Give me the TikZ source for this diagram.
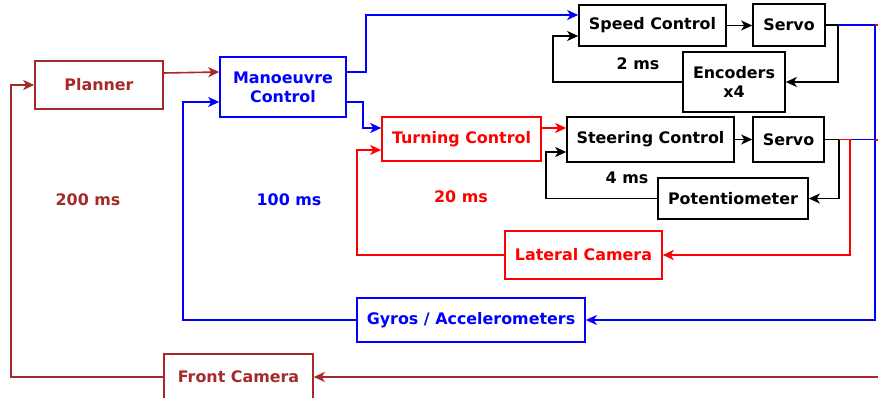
\documentclass[tikz,border=0pt]{standalone}
\usepackage{fontspec}
\setmainfont{DejaVu Sans}
\usetikzlibrary{arrows.meta,calc}
\definecolor{brn}{RGB}{165,42,42}
\definecolor{blu}{RGB}{0,0,255}
\definecolor{rd}{RGB}{255,0,0}
\begin{document}
\begin{tikzpicture}[x=1pt,y=-1pt,
  box/.style={draw,line width=1.6pt,rectangle,inner sep=0pt,align=center,
    font=\bfseries\fontsize{15.9}{19}\selectfont},
  lbl/.style={inner sep=0pt,font=\bfseries\fontsize{15.9}{19}\selectfont},
  wire/.style={line width=1.6pt},
  arr/.style={wire,-{Stealth[length=11pt,width=10pt,inset=3pt]}},
  bk/.style={black},
  br/.style={brn},
  bl/.style={blu},
  rdc/.style={rd}]
\clip (0,0) rectangle (878,398);
\useasboundingbox (0,0) rectangle (878,398);
% boxes
\node[box,br,minimum width=128,minimum height=48] (planner) at (99,85) {Planner};
\node[box,bl,minimum width=126,minimum height=60] (manoeuvre) at (283,87) {Manoeuvre\\Control};
\node[box,bk,minimum width=147,minimum height=41] (speed) at (652.5,25.5) {Speed Control};
\node[box,bk,minimum width=72,minimum height=42] (servoA) at (789,25) {Servo};
\node[box,bk,minimum width=102,minimum height=60] (enc) at (734,82) {Encoders\\x4};
\node[box,rdc,minimum width=159,minimum height=44] (turning) at (461.5,139) {Turning Control};
\node[box,bk,minimum width=167,minimum height=45] (steering) at (650.5,139.5) {Steering Control};
\node[box,bk,minimum width=71,minimum height=45] (servoB) at (788.5,139.5) {Servo};
\node[box,bk,minimum width=150,minimum height=41] (pot) at (733,198.5) {Potentiometer};
\node[box,rdc,minimum width=157,minimum height=48] (lateral) at (583.5,255) {Lateral Camera};
\node[box,bl,minimum width=228,minimum height=44] (gyros) at (471,320) {Gyros / Accelerometers};
\node[box,br,minimum width=149,minimum height=46] (front) at (238.5,377) {Front Camera};
% labels
\node[lbl,bk] (l2) at (638,64) {2 ms};
\node[lbl,bk] (l4) at (627,178) {4 ms};
\node[lbl,br] (l200) at (88,200) {200 ms};
\node[lbl,bl] (l100) at (289,200) {100 ms};
\node[lbl,rdc] (l20) at (461,197) {20 ms};
% edge coordinates
\coordinate (edgeF) at (880,377);
\coordinate (stubA) at (875,25);
\coordinate (stubB) at (875,140);
% connectors
\draw[arr,br] ([yshift=12pt]planner.east) -- ([yshift=15pt]manoeuvre.west);
\draw[arr,bl] ([yshift=15pt]manoeuvre.east) -- ++(19,0) |- ([yshift=10.5pt]speed.west);
\draw[arr,bl] ([yshift=-15pt]manoeuvre.east) -- ++(16,0) |- ([yshift=11pt]turning.west);
\draw[arr,rdc] (lateral.west) -- ++(-147,0) |- ([yshift=-11pt]turning.west);
\draw[arr,rdc] ([yshift=11pt]turning.east) -- ([yshift=11.5pt]steering.west);
\draw[arr,bk] (speed.east) -- (speed.east -| servoA.west);
\draw[arr,bk] (steering.east) -- (servoB.west);
\draw[arr,bk] (servoA.east) -- ++(12,0) |- (enc.east);
\draw[arr,bk] (enc.west) -- ++(-129,0) |- ([yshift=-10.5pt]speed.west);
\draw[arr,bk] (servoB.east) -- ++(14,0) |- (pot.east);
\draw[arr,bk] (pot.west) -- ++(-111,0) |- ([yshift=-12.5pt]steering.west);
\draw[arr,bl] ([xshift=12pt]servoA.east) -- ++(37,0) |- (gyros.east);
\draw[wire,bl] ([xshift=25pt]servoB.east) -- ++(25,0);
\draw[arr,rdc] ([xshift=14pt]servoB.east) -- ++(11,0) |- (lateral.east);
\draw[wire,rdc] (stubA) -- ++(5,0);
\draw[wire,rdc] (stubB) -- ++(5,0);
\draw[arr,br] (edgeF) -- (front.east);
\draw[arr,br] (front.west) -- ++(-152,0) |- (planner.west);
\draw[arr,bl] (gyros.west) -- ++(-173,0) |- ([yshift=-15pt]manoeuvre.west);
\end{tikzpicture}
\end{document}
